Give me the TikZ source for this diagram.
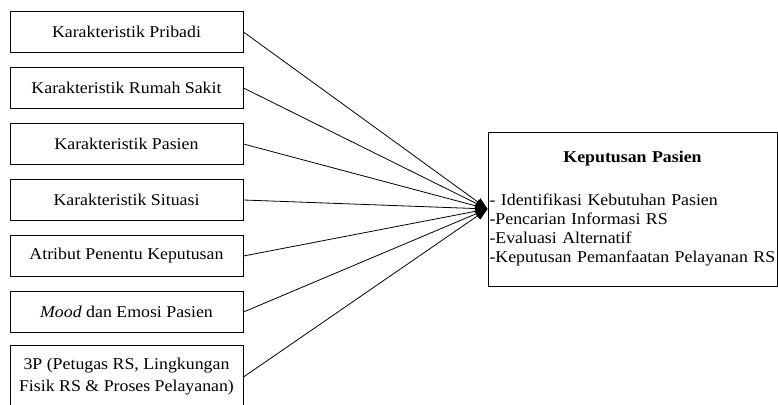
\documentclass[tikz,border=0pt]{standalone}
\usepackage{fontspec}
\setmainfont[FakeStretch=1.08]{Liberation Serif}
\usepackage{tikz}
\usetikzlibrary{arrows.meta, positioning}

\begin{document}
\begin{tikzpicture}[x=1pt, y=-1pt, >={Triangle[length=12pt, width=9pt]},
    factor/.style={draw, line width=1pt, minimum width=233pt,
      minimum height=41pt, inner sep=2pt, align=center,
      font=\fontsize{16.5}{22}\selectfont},
    decision/.style={draw, line width=1pt, minimum width=289pt,
      minimum height=154pt, text width=286pt, inner xsep=1.5pt,
      inner ysep=4pt, font=\fontsize{16.5}{19}\selectfont}]
  \useasboundingbox (0,0) rectangle (778,404);
  \clip (0,0) rectangle (778,404);

  % faktor-faktor di kiri
  \node[factor] (pribadi) at (126.5,32) {Karakteristik Pribadi};
  \node[factor, below=14pt of pribadi] (rumahsakit) {Karakteristik Rumah Sakit};
  \node[factor, below=14pt of rumahsakit] (pasien) {Karakteristik Pasien};
  \node[factor, below=14pt of pasien] (situasi) {Karakteristik Situasi};
  \node[factor, below=14pt of situasi] (atribut) {Atribut Penentu Keputusan};
  \node[factor, below=14pt of atribut] (mood) {\textit{Mood} dan Emosi Pasien};
  \node[factor, below=12pt of mood, minimum height=63pt] (tigap)
    {3P (Petugas RS, Lingkungan\\Fisik RS \& Proses Pelayanan)};

  % keputusan pasien di kanan
  \node[decision] (keputusan) at (632.5,209)
    {\centering\textbf{Keputusan Pasien}\par\vspace{24pt}
     \raggedright - Identifikasi Kebutuhan Pasien\\
     -Pencarian Informasi RS\\
     -Evaluasi Alternatif\\
     -Keputusan Pemanfaatan Pelayanan RS\par\vspace{6pt}};

  \foreach \src in {pribadi, rumahsakit, pasien, situasi, atribut, mood, tigap}
    \draw[->, line width=0.8pt] (\src.east) -- (keputusan.west);

\end{tikzpicture}
\end{document}
